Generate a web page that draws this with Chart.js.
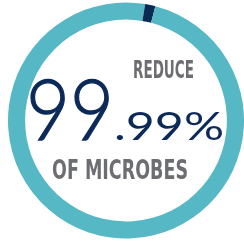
<!DOCTYPE html>
<html>
<head>
<meta charset="utf-8">
<script src="https://cdn.jsdelivr.net/npm/chart.js@4/dist/chart.umd.min.js"></script>
<style>
  html, body { margin: 0; padding: 0; background: #fff; }
  #wrap { position: relative; width: 244px; height: 241px; }
  #ring { position: absolute; left: 0; top: 0; }
  #label { position: absolute; left: 0; top: 0; pointer-events: none; }
  .cond { font-family: "Liberation Sans Narrow", "DejaVu Sans Condensed", sans-serif; font-weight: bold; fill: #6d6e71; }
  .big { font-family: Lato, "Open Sans", sans-serif; font-weight: 300; fill: #0b2a5a; stroke: #0b2a5a; stroke-width: 1.3; }
  .small { font-family: Lato, "Open Sans", sans-serif; font-weight: 400; fill: #0b2a5a; }
</style>
</head>
<body>
<div id="wrap">
  <canvas id="ring" width="244" height="241"></canvas>
  <svg id="label" width="244" height="241" xmlns="http://www.w3.org/2000/svg">
    <text class="cond" x="133" y="78.3" font-size="24.6" textLength="61" lengthAdjust="spacingAndGlyphs">REDUCE</text>
    <text class="big" x="26" y="139.5" font-size="85" textLength="88" lengthAdjust="spacingAndGlyphs">99</text>
    <text class="small" x="114" y="140" font-size="39" textLength="110" lengthAdjust="spacingAndGlyphs">.99%</text>
    <text class="cond" x="52" y="179" font-size="25.8" textLength="136" lengthAdjust="spacingAndGlyphs">OF MICROBES</text>
  </svg>
</div>
<script>
// ring segments, in percent of the full circle, clockwise from the top
const segmentLabels = ["lead", "marker", "rest"];
const segmentValues = [2.6, 1.4, 96];
const segmentColors = ["#56b7c5", "#082a55", "#56b7c5"];

const ctx = document.getElementById("ring").getContext("2d");
new Chart(ctx, {
  type: "doughnut",
  data: {
    labels: segmentLabels,
    datasets: [{
      data: segmentValues,
      backgroundColor: segmentColors,
      borderWidth: 0
    }]
  },
  options: {
    responsive: false,
    animation: false,
    cutout: "85.5%",
    layout: { padding: { left: 8, right: 0, top: 1, bottom: 1 } },
    plugins: { legend: { display: false }, tooltip: { enabled: false } }
  }
});
</script>
</body>
</html>
